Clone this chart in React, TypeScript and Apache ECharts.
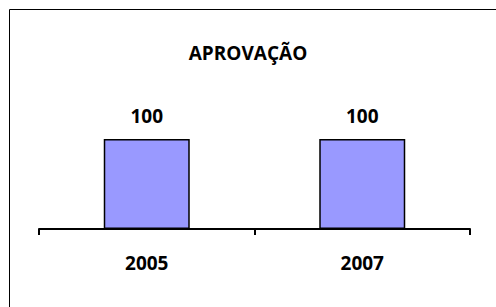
import React, { useEffect, useRef } from "react";
import * as echarts from "echarts";

const title = "APROVAÇÃO";
const categories = ["2005", "2007"];
const values = [100, 100];

export default function App() {
  const ref = useRef<HTMLDivElement>(null);
  useEffect(() => {
    const chart = echarts.init(ref.current!, null, { renderer: "svg" });
    const font = "'Open Sans', sans-serif";
    chart.setOption({
      animation: false,
      backgroundColor: "#ffffff",
      title: {
        text: title,
        left: "center",
        top: 38,
        textStyle: { fontFamily: font, fontWeight: "bold", fontSize: 19, color: "#000" },
      },
      graphic: [
        {
          type: "rect",
          shape: { x: 9.5, y: 9.5, width: 600, height: 600 },
          style: { fill: "none", stroke: "#000", lineWidth: 1 },
          silent: true,
        },
      ],
      grid: { left: 39, right: 26, top: 49, bottom: 78 },
      xAxis: {
        type: "category",
        data: categories,
        axisLine: { lineStyle: { color: "#000", width: 2 } },
        axisTick: { show: true, length: 6, lineStyle: { color: "#000", width: 2 } },
        axisLabel: { margin: 24, fontFamily: font, fontWeight: "bold", fontSize: 19, color: "#000" },
      },
      yAxis: {
        type: "value",
        min: 0,
        max: 200,
        show: false,
        splitLine: { show: false },
      },
      series: [
        {
          type: "bar",
          data: values,
          barWidth: 86,
          itemStyle: { color: "#9999ff", borderColor: "#000", borderWidth: 1.5 },
          label: {
            show: true,
            position: "top",
            distance: 14,
            fontFamily: font,
            fontWeight: "bold",
            fontSize: 19,
            color: "#000",
          },
        },
      ],
    });
    return () => chart.dispose();
  }, []);
  return (
    <div
      ref={ref}
      style={{ position: "fixed", left: 0, top: 0, width: 496, height: 307 }}
    />
  );
}
